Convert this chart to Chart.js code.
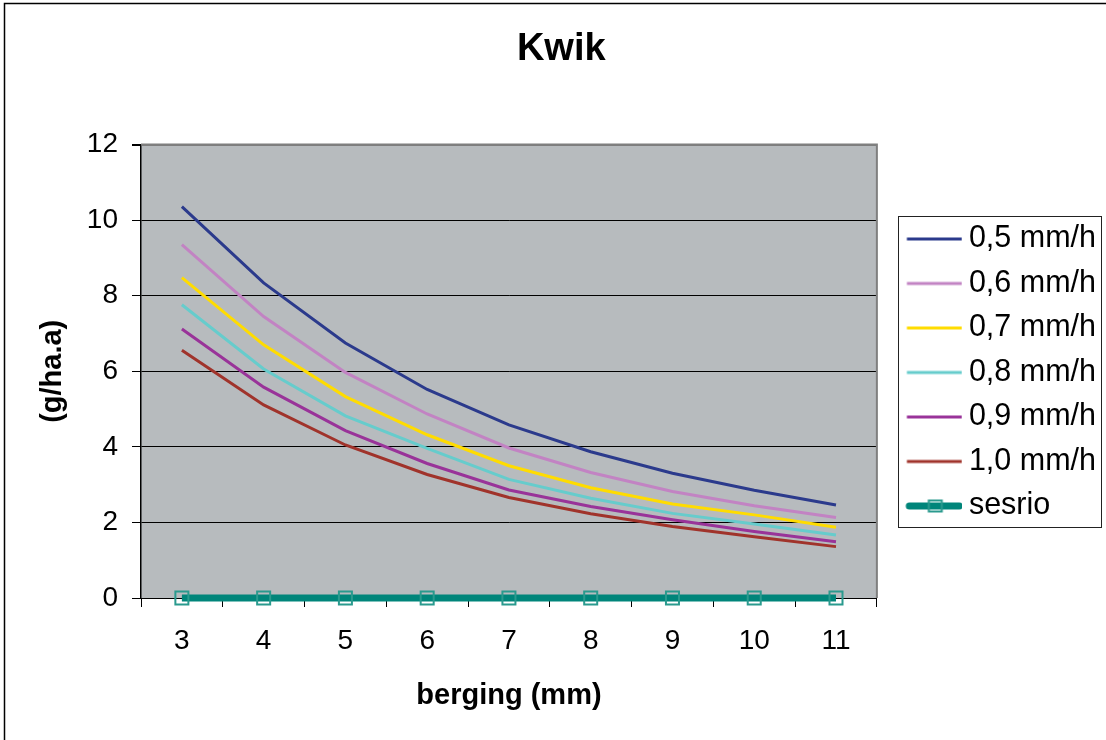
<!DOCTYPE html>
<html><head><meta charset="utf-8">
<script src="https://cdn.jsdelivr.net/npm/chart.js@4.4.1/dist/chart.umd.min.js"></script>
<style>html,body{margin:0;padding:0;background:#fff}#wrap{width:1106px;height:740px;position:relative}</style>
</head><body><div id="wrap"><canvas id="c" width="1106" height="740"></canvas></div>
<script>
const chartTitle = 'Kwik';
const xTitle = 'berging (mm)';
const yTitle = '(g/ha.a)';
const categories = ['3', '4', '5', '6', '7', '8', '9', '10', '11'];
const s05 = [10.36, 8.34, 6.75, 5.52, 4.58, 3.87, 3.30, 2.85, 2.46];
const s06 = [9.35, 7.45, 5.97, 4.87, 3.97, 3.32, 2.82, 2.44, 2.13];
const s07 = [8.48, 6.70, 5.33, 4.32, 3.50, 2.92, 2.49, 2.20, 1.87];
const s08 = [7.76, 6.06, 4.82, 3.96, 3.14, 2.64, 2.24, 1.96, 1.67];
const s09 = [7.12, 5.58, 4.43, 3.56, 2.86, 2.42, 2.07, 1.76, 1.49];
const s10 = [6.56, 5.11, 4.05, 3.27, 2.66, 2.23, 1.89, 1.62, 1.36];
const sesrio = [0, 0, 0, 0, 0, 0, 0, 0, 0];
const seriesNames = ['0,5 mm/h', '0,6 mm/h', '0,7 mm/h', '0,8 mm/h', '0,9 mm/h', '1,0 mm/h', 'sesrio'];
const yMin = 0, yMax = 12, yStep = 2;

const FONT = '"Liberation Sans", Arial, Helvetica, sans-serif';
const colors = ['#2b3a8c', '#c283c3', '#ffdc00', '#66cccc', '#993399', '#a0332b', '#00857a'];
const markerColor = '#2a9a8e';

// legend sample canvas: centred on (hitbox.left + boxWidth/2); the line is drawn to the right part
const BOXW = 62.75;
function sample(color, width, marker) {
  const c = document.createElement('canvas');
  c.width = 80; c.height = 18;
  const g = c.getContext('2d');
  g.strokeStyle = color; g.lineWidth = width;
  g.lineCap = marker ? 'round' : 'butt';
  g.beginPath();
  if (marker) { g.moveTo(27, 9); g.lineTo(77, 9); } else { g.moveTo(24.6, 9); g.lineTo(79.6, 9); }
  g.stroke();
  if (marker) {
    g.strokeStyle = markerColor; g.lineWidth = 2;
    g.strokeRect(46.5, 3.5, 13, 11);
  }
  return c;
}

const seriesData = [s05, s06, s07, s08, s09, s10];
const datasets = seriesData.map((d, i) => ({
  label: seriesNames[i], data: d, borderColor: colors[i], backgroundColor: colors[i],
  borderWidth: 3, pointRadius: 0, tension: 0, fill: false
}));
datasets.push({
  label: seriesNames[6], data: sesrio, borderColor: colors[6], backgroundColor: 'rgba(0,0,0,0)',
  borderWidth: 7, pointRadius: 9.2, pointStyle: 'rect', pointBorderColor: markerColor,
  pointBackgroundColor: 'rgba(0,0,0,0)', pointBorderWidth: 2, clip: false, tension: 0
});

const decor = {
  id: 'decor',
  beforeDraw(chart) {
    const {ctx, chartArea: a} = chart;
    ctx.save();
    ctx.fillStyle = '#ffffff';
    ctx.fillRect(0, 0, chart.width, chart.height);
    ctx.strokeStyle = '#000'; ctx.lineWidth = 1.5;
    ctx.beginPath();
    ctx.moveTo(4.5, chart.height + 2); ctx.lineTo(4.5, 3.5); ctx.lineTo(chart.width + 2, 3.5);
    ctx.stroke();
    ctx.fillStyle = '#b7bbbe';
    ctx.fillRect(a.left, a.top, a.right - a.left, a.bottom - a.top);
    ctx.restore();
  },
  beforeDatasetsDraw(chart) {
    const {ctx, chartArea: a} = chart;
    ctx.save();
    ctx.strokeStyle = '#7f7f7f'; ctx.lineWidth = 2;
    ctx.beginPath();
    ctx.moveTo(a.left, a.top); ctx.lineTo(a.right, a.top); ctx.lineTo(a.right, a.bottom);
    ctx.stroke();
    ctx.restore();
  },
  afterDraw(chart) {
    const lg = chart.legend;
    if (!lg || !lg.legendHitBoxes || !lg.legendHitBoxes.length) return;
    const hb = lg.legendHitBoxes;
    const ctx = chart.ctx;
    const L = Math.min(...hb.map(h => h.left));
    const left = L + 7;
    const top = hb[0].top - 7.75;
    const bottom = hb[hb.length - 1].top + hb[hb.length - 1].height + 5.75;
    const right = L + 210;
    ctx.save();
    ctx.strokeStyle = '#222'; ctx.lineWidth = 1;
    ctx.strokeRect(Math.round(left) + 0.5, Math.round(top) + 0.5, Math.round(right - left), Math.round(bottom - top));
    ctx.restore();
  }
};

new Chart(document.getElementById('c'), {
  type: 'line',
  data: { labels: categories, datasets },
  options: {
    responsive: false, animation: false, devicePixelRatio: 1,
    layout: { padding: { left: 16.5, right: 0, top: 5, bottom: 0 } },
    plugins: {
      title: { display: true, text: chartTitle, color: '#000',
        font: { family: FONT, size: 38, weight: 'bold' }, padding: { top: 22, bottom: 72 } },
      legend: {
        position: 'right', align: 'center',
        labels: {
          usePointStyle: true, pointStyleWidth: BOXW, padding: 14, color: '#000',
          font: { family: FONT, size: 30.5 },
          generateLabels(chart) {
            return chart.data.datasets.map((ds, i) => ({
              text: ds.label, datasetIndex: i, fillStyle: 'rgba(0,0,0,0)', strokeStyle: 'rgba(0,0,0,0)',
              lineWidth: 0, pointStyle: sample(ds.borderColor, i === 6 ? 7 : 3, i === 6), hidden: false
            }));
          }
        }
      },
      tooltip: { enabled: false }
    },
    scales: {
      x: {
        type: 'category', offset: true,
        grid: { drawOnChartArea: false, color: '#000', tickLength: 9, offset: true },
        border: { color: '#000', width: 1 },
        ticks: { color: '#000', font: { family: FONT, size: 28 }, padding: 17, maxRotation: 0 },
        title: { display: true, text: xTitle, color: '#000', font: { family: FONT, size: 29, weight: 'bold' },
          padding: { top: 0, bottom: 27 } },
        afterFit(s) { s.height = 142; }
      },
      y: {
        min: yMin, max: yMax,
        grid: { color: c => c.tick && c.tick.value === yMax ? '#7f7f7f' : '#000',
                lineWidth: c => c.tick && c.tick.value === yMax ? 2 : 1, tickColor: '#000', tickLength: 9 },
        border: { color: '#000', width: 1.5 },
        ticks: { stepSize: yStep, color: '#000', font: { family: FONT, size: 28 }, padding: 14 },
        title: { display: true, text: yTitle, color: '#000', font: { family: FONT, size: 29, weight: 'bold' },
          padding: { top: 19.5, bottom: 0 } },
        afterFit(s) { s.width = 124.5; }
      }
    }
  },
  plugins: [decor]
});
</script></body></html>
